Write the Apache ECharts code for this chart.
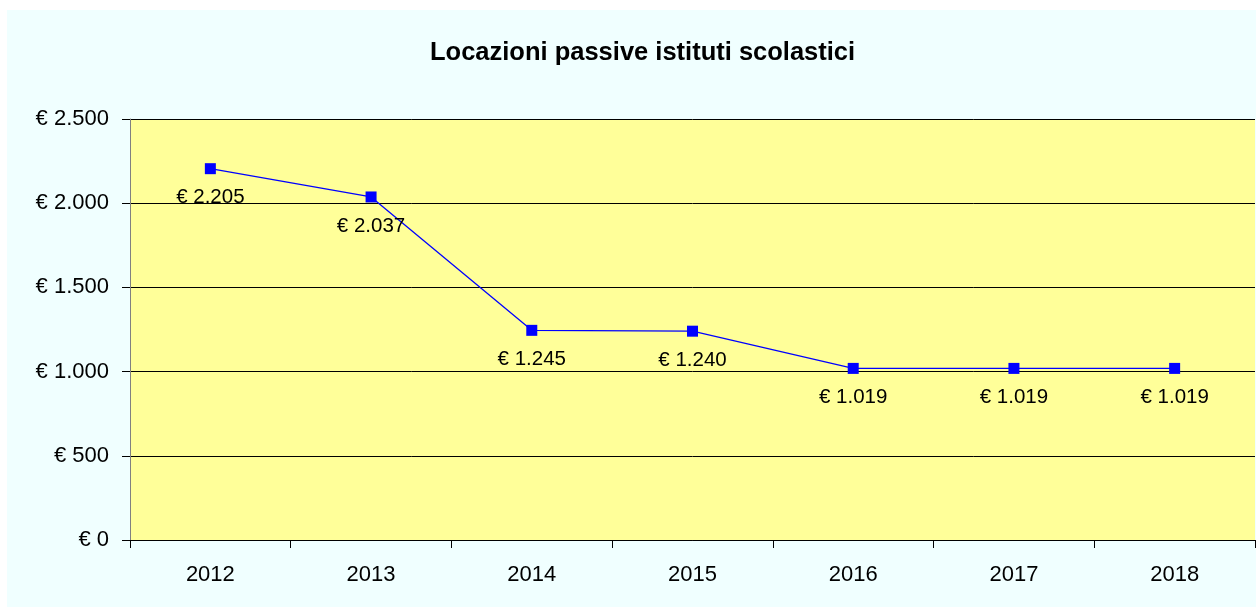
<!DOCTYPE html>
<html>
<head>
<meta charset="utf-8">
<script src="https://cdn.jsdelivr.net/npm/echarts@6/dist/echarts.min.js"></script>
<style>
html,body{margin:0;padding:0;background:#ffffff;width:1256px;height:610px;overflow:hidden;}
#chart{position:absolute;left:7px;top:10px;width:1249px;height:597px;background:#F0FFFF;}
</style>
</head>
<body>
<div id="chart"></div>
<script>
const categories = ['2012','2013','2014','2015','2016','2017','2018'];
const values = [2205, 2037, 1245, 1240, 1019, 1019, 1019];
const titleText = 'Locazioni passive istituti scolastici';

function fmt(v){
  const s = String(Math.round(v));
  return '€ ' + s.replace(/\B(?=(\d{3})+(?!\d))/g, '.');
}
const FONT = '"Liberation Sans", Arial, sans-serif';

const chart = echarts.init(document.getElementById('chart'), null, {renderer:'canvas'});
chart.setOption({
  animation:false,
  backgroundColor:'#F0FFFF',
  title:{
    text:titleText,
    left:418, top:25,
    textStyle:{fontFamily:FONT,fontSize:25.5,fontWeight:'bold',color:'#000'}
  },
  grid:{left:123,top:109,right:1,bottom:67,show:true,backgroundColor:'#FFFF99',borderWidth:0},
  xAxis:{
    type:'category',
    data:categories,
    boundaryGap:true,
    axisLine:{lineStyle:{color:'#000',width:1}},
    axisTick:{show:true,length:8,lineStyle:{color:'#000'}},
    axisLabel:{margin:24,fontFamily:FONT,fontSize:22,color:'#000'},
    splitLine:{show:false}
  },
  yAxis:{
    type:'value',
    min:0,max:2500,interval:500,
    axisLine:{show:true,lineStyle:{color:'#808080',width:1}},
    axisTick:{show:true,length:8,lineStyle:{color:'#000'}},
    axisLabel:{margin:21,fontFamily:FONT,fontSize:22,color:'#000',formatter:fmt},
    splitLine:{show:true,lineStyle:{color:'#000',width:1}}
  },
  series:[{
    type:'line',
    data:values,
    symbol:'rect',
    symbolSize:11,
    itemStyle:{color:'#0000FF'},
    lineStyle:{color:'#0000FF',width:1.3},
    label:{show:true,position:'bottom',distance:13,fontFamily:FONT,fontSize:20.5,color:'#000',formatter:p=>fmt(p.value)}
  }]
});
</script>
</body>
</html>
